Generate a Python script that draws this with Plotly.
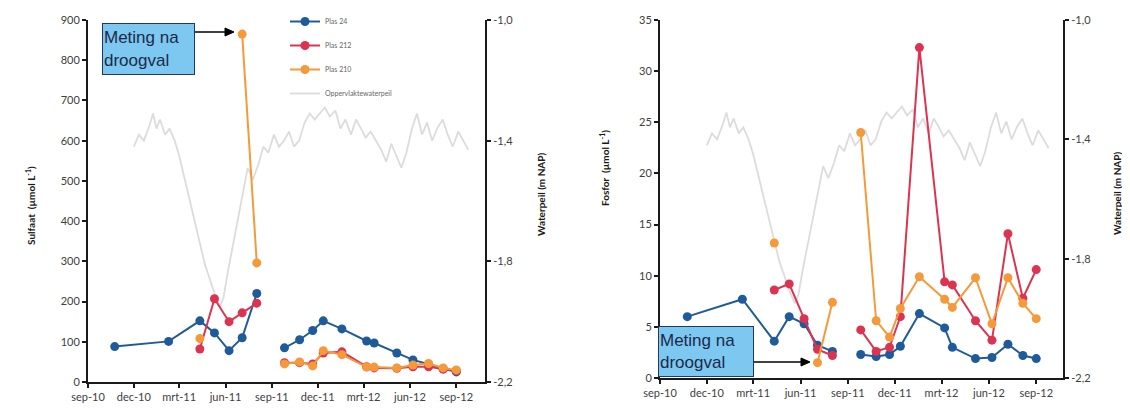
import plotly.graph_objects as go

# ---------------- data ----------------
dates = ["2010-10-24", "2011-02-08", "2011-04-11", "2011-05-10", "2011-06-08",
         "2011-07-04", "2011-08-02", "2011-09-01", "2011-09-26", "2011-10-26",
         "2011-11-21", "2011-12-12", "2012-01-18", "2012-03-07", "2012-03-22",
         "2012-05-06", "2012-06-07", "2012-07-08", "2012-08-06", "2012-09-01"]

sulfaat_24 = [88, 101, 152, 122, 78, 110, 220, None, 85, 105, 128, 152, 132, 102, 97, 72, 55, 44, 33, 25]
sulfaat_212 = [None, None, 82, 207, 150, 172, 196, None, 48, 48, 45, 72, 75, 38, 35, 34, 38, 38, 32, 28]
sulfaat_210 = [None, None, 108, None, None, 865, 296, None, 45, 50, 40, 78, 68, 37, 37, 35, 42, 46, 35, 30]

fosfor_24 = [6.0, 7.7, 3.6, 6.0, 5.3, 3.2, 2.6, None, 2.3, 2.1, 2.3, 3.1, 6.3, 4.9, 3.0, 1.9, 2.0, 3.3, 2.2, 1.9]
fosfor_212 = [None, None, 8.6, 9.2, 5.8, 2.8, 2.2, None, 4.7, 2.6, 3.0, 6.0, 32.3, 9.4, 9.1, 5.6, 3.7, 14.1, 7.8, 10.6]
fosfor_210 = [None, None, 13.2, None, None, 1.5, 7.4, None, 24.0, 5.6, 4.0, 6.8, 9.9, 7.7, 6.9, 9.8, 5.3, 9.8, 7.3, 5.8]

peil_dates = ["2010-12-01", "2010-12-11", "2010-12-21", "2011-01-01", "2011-01-08", "2011-01-15",
              "2011-01-22", "2011-02-01", "2011-02-10", "2011-02-20", "2011-03-01", "2011-03-11",
              "2011-03-21", "2011-04-01", "2011-04-11", "2011-04-21", "2011-05-01", "2011-05-11",
              "2011-05-21", "2011-05-28", "2011-06-05", "2011-06-15", "2011-06-25", "2011-07-05",
              "2011-07-15", "2011-07-25", "2011-08-05", "2011-08-15", "2011-08-25", "2011-09-05",
              "2011-09-15", "2011-09-25", "2011-10-05", "2011-10-15", "2011-10-25", "2011-11-05",
              "2011-11-15", "2011-11-25", "2011-12-05", "2011-12-15", "2011-12-25", "2012-01-05",
              "2012-01-15", "2012-01-25", "2012-02-05", "2012-02-15", "2012-02-25", "2012-03-05",
              "2012-03-15", "2012-03-25", "2012-04-05", "2012-04-15", "2012-04-25", "2012-05-05",
              "2012-05-15", "2012-05-25", "2012-06-05", "2012-06-15", "2012-06-25", "2012-07-05",
              "2012-07-15", "2012-07-25", "2012-08-05", "2012-08-15", "2012-08-25", "2012-09-05",
              "2012-09-15", "2012-09-25"]
peil = [-1.42, -1.38, -1.40, -1.35, -1.31, -1.36,
        -1.33, -1.38, -1.36, -1.40, -1.45, -1.52,
        -1.60, -1.67, -1.74, -1.81, -1.86, -1.91,
        -1.95, -1.92, -1.84, -1.75, -1.66, -1.58,
        -1.49, -1.53, -1.48, -1.42, -1.44, -1.38,
        -1.42, -1.40, -1.37, -1.42, -1.40, -1.34,
        -1.31, -1.33, -1.31, -1.29, -1.32, -1.30,
        -1.36, -1.33, -1.38, -1.33, -1.36, -1.39,
        -1.37, -1.40, -1.43, -1.47, -1.41, -1.45,
        -1.49, -1.44, -1.36, -1.31, -1.38, -1.34,
        -1.40, -1.36, -1.33, -1.38, -1.42, -1.37,
        -1.40, -1.43]

x_tickvals = ["2010-09-01", "2010-12-01", "2011-03-01", "2011-06-01", "2011-09-01",
              "2011-12-01", "2012-03-01", "2012-06-01", "2012-09-01"]
x_ticktext = ["sep-10", "dec-10", "mrt-11", "jun-11", "sep-11",
              "dec-11", "mrt-12", "jun-12", "sep-12"]
peil_ticks = [-1.0, -1.4, -1.8, -2.2]
peil_ticktext = ["-1,0", "-1,4", "-1,8", "-2,2"]

names = ["Plas 24", "Plas 212", "Plas 210"]
colors = ["#1f5b99", "#dc3450", "#f59a3a"]
peil_name = "Oppervlaktewaterpeil"

# ---------------- figure ----------------
OFF = 8                      # page body margin
W, H = 1130 - OFF, 408 - OFF
fig = go.Figure()

def px_x(p):
    return (p - OFF) / W

def px_y(p):
    return 1 - (p - OFF) / H

# Left chart: sulfate (y2, left side, overlay) + water level (base axis y, right side, drawn behind)
for i, (nm, col, vals) in enumerate(zip(names, colors, [sulfaat_24, sulfaat_212, sulfaat_210])):
    fig.add_trace(go.Scatter(x=dates, y=vals, mode="lines+markers", name=nm,
                             line=dict(color=col, width=2), marker=dict(color=col, size=9),
                             xaxis="x", yaxis="y2", legendgroup="g%d" % i, showlegend=True))
fig.add_trace(go.Scatter(x=peil_dates, y=peil, mode="lines", name=peil_name,
                         line=dict(color="#dcdcdc", width=1.8), xaxis="x", yaxis="y",
                         legendgroup="g3", showlegend=True))

# Right chart
for nm, col, vals in zip(names, colors, [fosfor_24, fosfor_212, fosfor_210]):
    fig.add_trace(go.Scatter(x=dates, y=vals, mode="lines+markers", name=nm,
                             line=dict(color=col, width=2), marker=dict(color=col, size=9),
                             xaxis="x2", yaxis="y4", showlegend=False))
fig.add_trace(go.Scatter(x=peil_dates, y=peil, mode="lines", name=peil_name,
                         line=dict(color="#dcdcdc", width=1.8), xaxis="x2", yaxis="y3",
                         showlegend=False))

tickfont = dict(family="Lato, Liberation Sans, Arial", size=11, color="#404040")
axis_common = dict(showline=True, linecolor="#1a1a1a", linewidth=2, showgrid=False,
                   zeroline=False, ticks="outside", ticklen=4, tickwidth=1.5,
                   tickcolor="#1a1a1a", tickfont=tickfont, automargin=False)

left_dom = [px_x(88), px_x(485)]
right_dom = [px_x(660), px_x(1063)]
left_ydom = [px_y(382), px_y(20)]
right_ydom = [px_y(378), px_y(20)]

fig.update_layout(
    width=W, height=H,
    margin=dict(l=0, r=0, t=0, b=0, autoexpand=False),
    paper_bgcolor="white", plot_bgcolor="rgba(0,0,0,0)",
    xaxis=dict(domain=left_dom, type="date", range=["2010-09-01", "2012-10-28"],
               tickvals=x_tickvals, ticktext=x_ticktext, anchor="y", **axis_common),
    yaxis=dict(domain=left_ydom, range=[-2.2, -1.0], side="right", anchor="x",
               tickvals=peil_ticks, ticktext=peil_ticktext, **axis_common),
    yaxis2=dict(range=[0, 900], dtick=100, overlaying="y", side="left", anchor="x",
                **axis_common),
    xaxis2=dict(domain=right_dom, type="date", range=["2010-09-01", "2012-10-23"],
                tickvals=x_tickvals, ticktext=x_ticktext, anchor="y3", **axis_common),
    yaxis3=dict(domain=right_ydom, range=[-2.2, -1.0], side="right", anchor="x2",
                tickvals=peil_ticks, ticktext=peil_ticktext, **axis_common),
    yaxis4=dict(range=[0, 35], dtick=5, overlaying="y3", side="left", anchor="x2",
                **axis_common),
    legend=dict(x=px_x(285), y=px_y(7), xanchor="left", yanchor="top",
                bgcolor="rgba(0,0,0,0)", font=dict(family="Lato, Arial", size=7, color="#666666"),
                traceorder="grouped", tracegroupgap=5, itemwidth=30),
    showlegend=True,
)

title_font = dict(family="Lato, Liberation Sans, Arial", size=10, color="#1a1a1a")
annots = [
    dict(text="<b>Sulfaat  (µmol L<sup>-1</sup>)</b>", x=px_x(30), y=px_y(206), textangle=-90),
    dict(text="<b>Waterpeil (m NAP)</b>", x=px_x(541), y=px_y(195), textangle=-90),
    dict(text="<b>Fosfor  (µmol L<sup>-1</sup>)</b>", x=px_x(604), y=px_y(168), textangle=-90),
    dict(text="<b>Waterpeil (m NAP)</b>", x=px_x(1117), y=px_y(194), textangle=-90),
]
for a in annots:
    fig.add_annotation(xref="paper", yref="paper", showarrow=False, font=title_font,
                       xanchor="center", yanchor="middle", **a)

box_style = dict(xref="paper", yref="paper", showarrow=False, align="left",
                 bgcolor="#7cc8f0", bordercolor="#1f3864", borderwidth=1, borderpad=1,
                 font=dict(family="Liberation Sans, Arial", size=17, color="#1c2a48"),
                 xanchor="left", yanchor="top")
fig.add_annotation(text="Meting na<br>droogval", x=px_x(102), y=px_y(23), width=89, height=48, **box_style)
fig.add_annotation(text="Meting na<br>droogval", x=px_x(658), y=px_y(326), width=92, height=47, **box_style)

# arrows: line + filled triangular head (paper coordinates)
def add_arrow(x0, x1, y):
    head = 9
    half = 4
    fig.add_shape(type="line", xref="paper", yref="paper",
                  x0=px_x(x0), x1=px_x(x1 - head + 1), y0=px_y(y), y1=px_y(y),
                  line=dict(color="black", width=1.5))
    path = "M %f %f L %f %f L %f %f Z" % (px_x(x1), px_y(y), px_x(x1 - head), px_y(y - half),
                                           px_x(x1 - head), px_y(y + half))
    fig.add_shape(type="path", xref="paper", yref="paper", path=path,
                  fillcolor="black", line=dict(color="black", width=1))

add_arrow(195, 234, 32)
add_arrow(754, 810, 362)

fig.write_html("out.html")
